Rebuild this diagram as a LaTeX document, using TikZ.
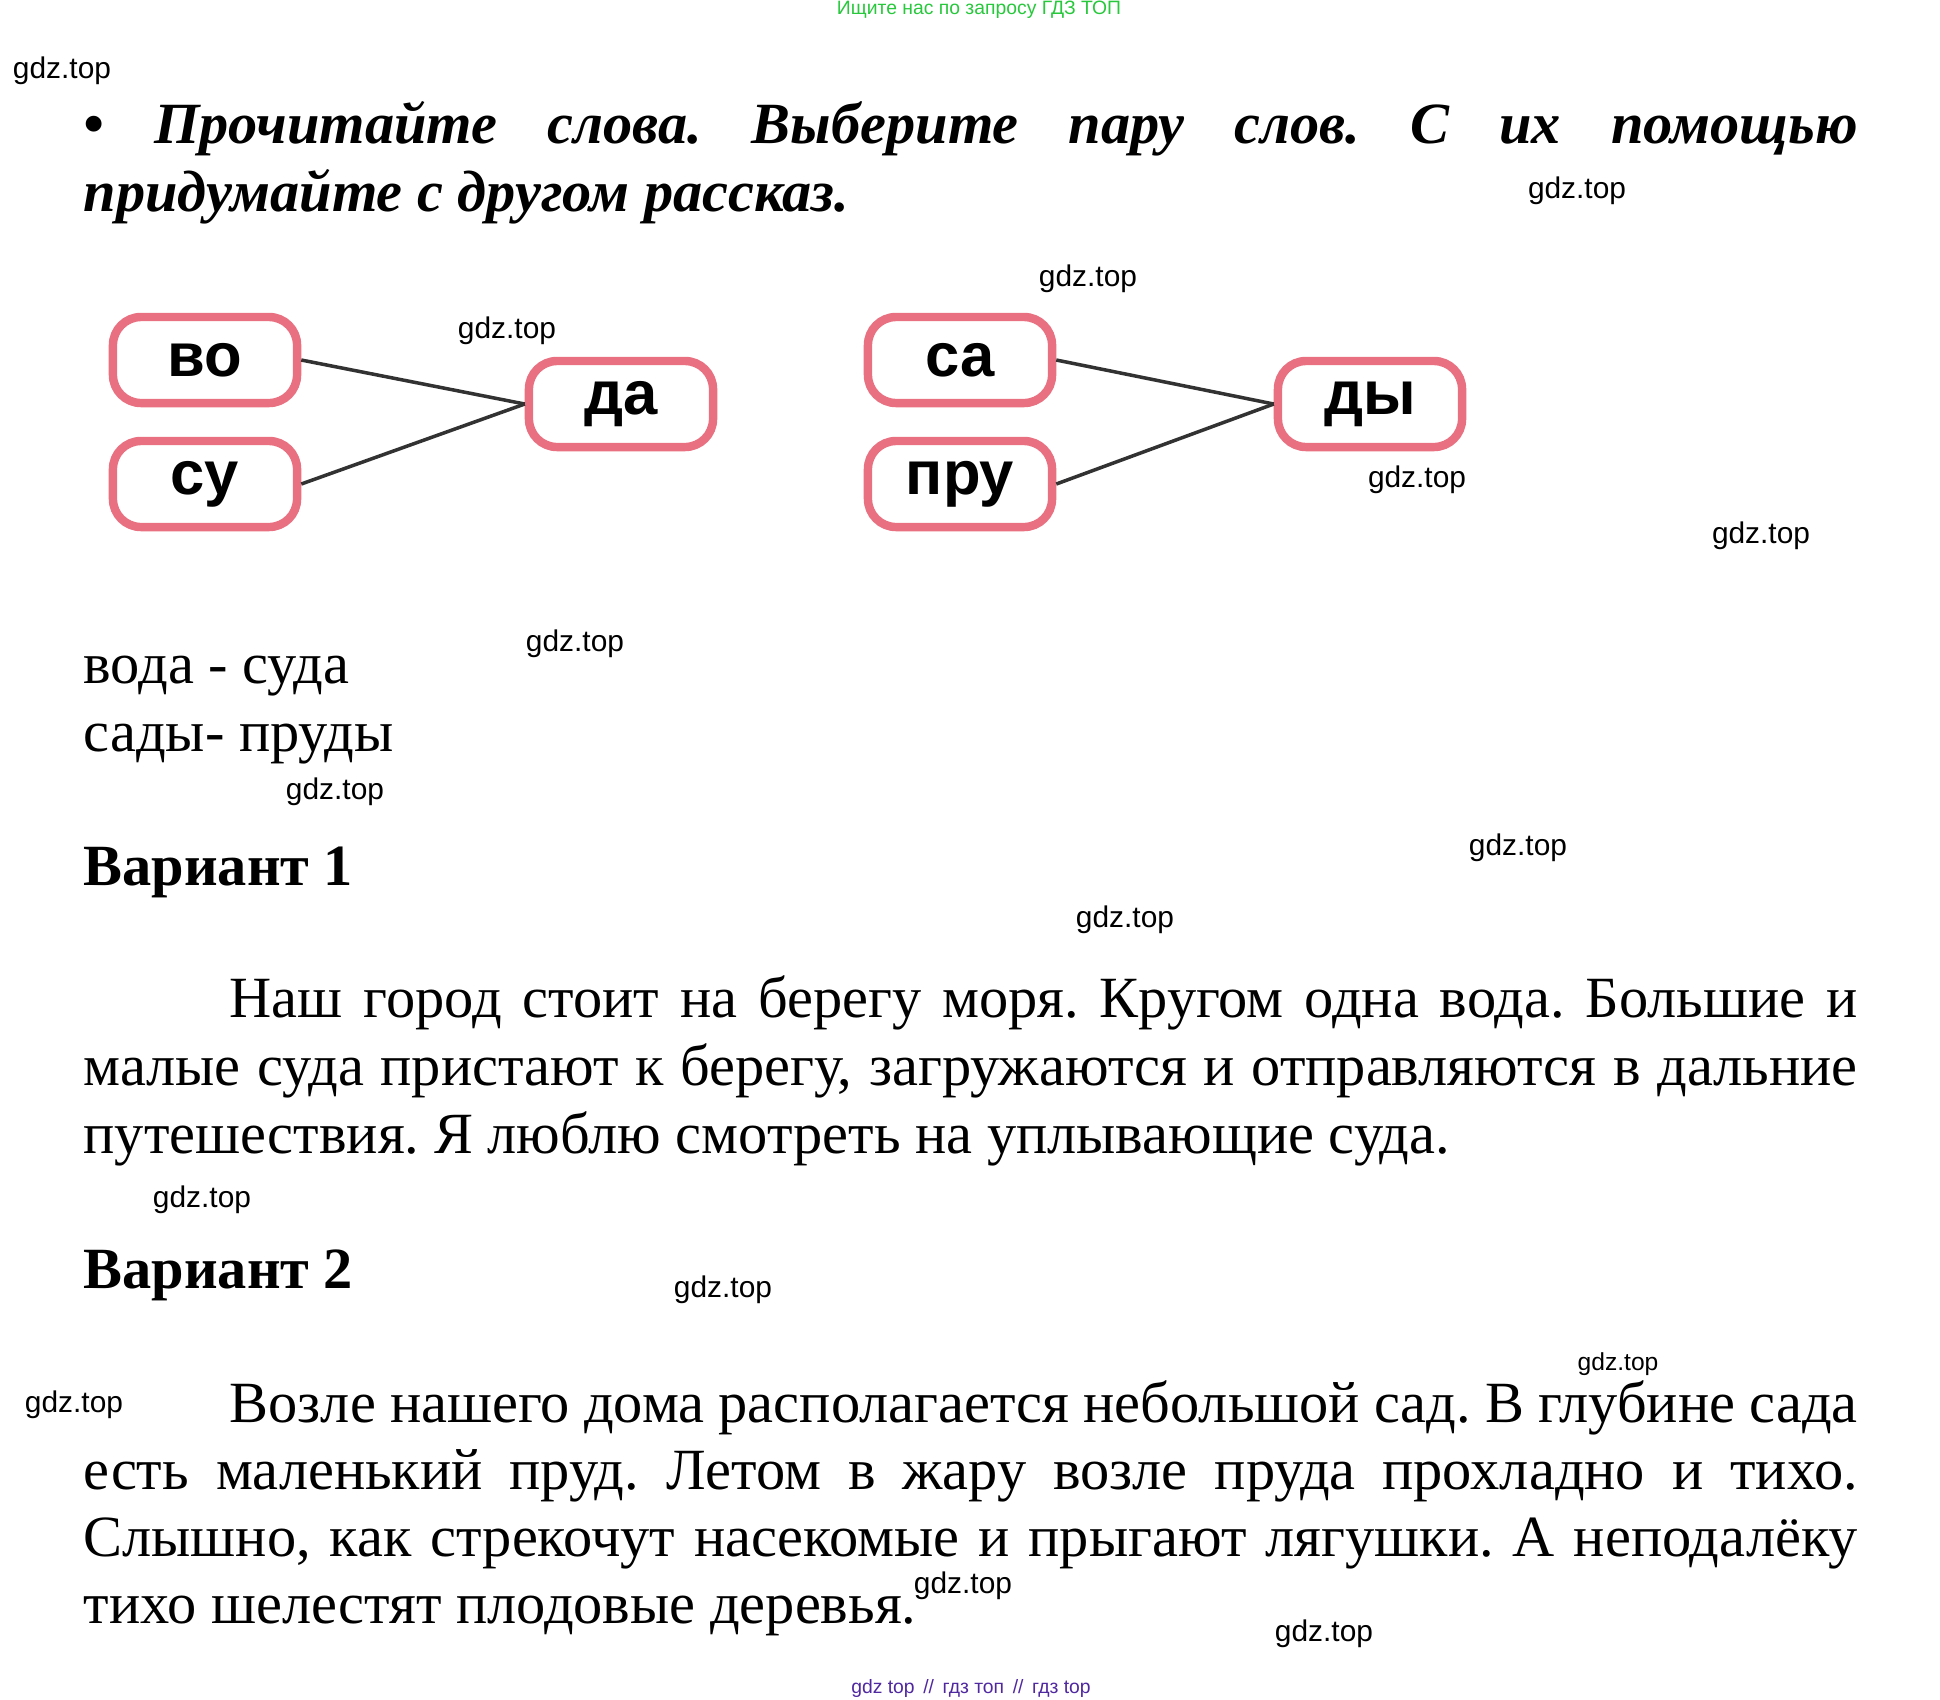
\documentclass[tikz,border=0pt]{standalone}
\usepackage{fontspec}
\setmainfont{Liberation Serif}
\setsansfont{Liberation Sans}
\usepackage{xcolor}
\usetikzlibrary{positioning, calc}
\definecolor{boxpink}{RGB}{232,112,128}
\definecolor{linegray}{RGB}{50,50,50}
\definecolor{topgreen}{RGB}{40,200,60}
\definecolor{footviolet}{RGB}{80,40,160}
\frenchspacing
\tikzset{
	syl/.style={draw=boxpink, line width=2.4pt, rounded corners=8pt, minimum width=1.84cm, minimum height=0.86cm, fill=white, font=\sffamily\bfseries\fontsize{17.5}{20}\selectfont},
	wm/.style={font=\sffamily\fontsize{8.5}{10}\selectfont},
	ln/.style={anchor=base west, inner sep=0pt, font=\fontsize{16.6}{20}\selectfont},
	hd/.style={anchor=base west, inner sep=0pt, font=\bfseries\itshape\fontsize{16.6}{20}\selectfont},
}
\begin{document}
\begin{tikzpicture}[x=0.01cm, y=-0.01cm]
		\useasboundingbox (0,0) rectangle (1940,1699);
		\node[font=\sffamily\fontsize{5.5}{6}\selectfont, text=topgreen] (top) at (979,10) {Ищите нас по запросу ГДЗ ТОП};
		
		% Task
		\node[hd] (h1) at (83,143) {\makebox[17.73cm][s]{• Прочитайте слова. Выберите пару слов. С их помощью}};
		\node[hd] (h2) at (83,211) {придумайте с другом рассказ.};
		
		% Syllables
		\node[syl] (vo) at (205,360) {во};
		\node[syl] (su) at (205,484) {су};
		\node[syl] (da) at (621,404) {да};
		\node[syl] (sa) at (960,360) {са};
		\node[syl] (pru) at (960,484) {пру};
		\node[syl] (dy) at (1370,404) {ды};
		
		\draw[linegray, line width=1pt] (vo.east) -- (da.west);
		\draw[linegray, line width=1pt] (su.east) -- (da.west);
		\draw[linegray, line width=1pt] (sa.east) -- (dy.west);
		\draw[linegray, line width=1pt] (pru.east) -- (dy.west);
		
		% Words
		\node[ln] (w1) at (83,683) {вода - суда};
		\node[ln] (w2) at (83,751) {сады- пруды};
		
		% Variant 1
		\node[ln, font=\bfseries\fontsize{16.6}{20}\selectfont] (v1) at (83,885) {Вариант 1};
		\node[ln] (a1) at (229,1017) {\makebox[16.27cm][s]{Наш город стоит на берегу моря. Кругом одна вода. Большие и}};
		\node[ln] (a2) at (83,1085) {\makebox[17.73cm][s]{малые суда пристают к берегу, загружаются и отправляются в дальние}};
		\node[ln] (a3) at (83,1153) {путешествия. Я люблю смотреть на уплывающие суда.};
		
		% Variant 2
		\node[ln, font=\bfseries\fontsize{16.6}{20}\selectfont] (v2) at (83,1288) {Вариант 2};
		\node[ln] (b1) at (229,1422) {\makebox[16.27cm][s]{Возле нашего дома располагается небольшой сад. В глубине сада}};
		\node[ln] (b2) at (83,1489) {\makebox[17.73cm][s]{есть маленький пруд. Летом в жару возле пруда прохладно и тихо.}};
		\node[ln] (b3) at (83,1556) {\makebox[17.73cm][s]{Слышно, как стрекочут насекомые и прыгают лягушки. А неподалёку}};
		\node[ln] (b4) at (83,1623) {тихо шелестят плодовые деревья.};
		
		% Marks
		\node[wm] (g1) at (62,71) {gdz.top};
		\node[wm] (g2) at (1577,191) {gdz.top};
		\node[wm] (g3) at (1088,279) {gdz.top};
		\node[wm] (g4) at (507,331) {gdz.top};
		\node[wm] (g5) at (1417,480) {gdz.top};
		\node[wm] (g6) at (1761,536) {gdz.top};
		\node[wm] (g7) at (575,644) {gdz.top};
		\node[wm] (g8) at (335,792) {gdz.top};
		\node[wm] (g9) at (1518,848) {gdz.top};
		\node[wm] (g10) at (1125,920) {gdz.top};
		\node[wm] (g11) at (202,1200) {gdz.top};
		\node[wm] (g12) at (723,1290) {gdz.top};
		\node[wm, font=\sffamily\fontsize{7}{8}\selectfont] (g13) at (1618,1364) {gdz.top};
		\node[wm] (g14) at (74,1405) {gdz.top};
		\node[wm] (g15) at (963,1586) {gdz.top};
		\node[wm] (g16) at (1324,1634) {gdz.top};
		\node[font=\sffamily\fontsize{5.5}{6}\selectfont, text=footviolet] (foot) at (971,1688) {gdz top \,//\, гдз топ \,//\, гдз top};
\end{tikzpicture}
\end{document}
